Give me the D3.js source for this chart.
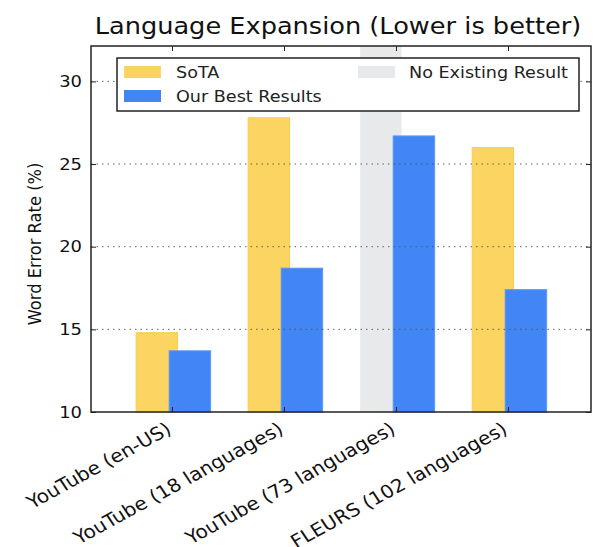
<!DOCTYPE html>
<html>
<head>
<meta charset="utf-8">
<script src="https://cdn.jsdelivr.net/npm/d3@7"></script>
<style>
  body { margin: 0; background: #fff; }
  text { font-family: "DejaVu Sans", sans-serif; }
</style>
</head>
<body>
<svg id="chart" width="593" height="547"></svg>
<script>
const categories = ["YouTube (en-US)", "YouTube (18 languages)", "YouTube (73 languages)", "FLEURS (102 languages)"];
const sotaValues = [14.8, 27.8, null, 26.0];
const bestValues = [13.7, 18.7, 26.7, 17.4];
const noExisting = [false, false, true, false];
const yTicks = [10, 15, 20, 25, 30];
const seriesNames = ["SoTA", "Our Best Results", "No Existing Result"];
const colors = { sota: "#fbd461", best: "#4285f4", none: "#e8e9eb" };

const svg = d3.select("#chart");
const L = 91, R = 591, T = 46, B = 412;
const SX = 1.1; // horizontal text stretch seen in the reference

const x = d3.scaleLinear().domain([-0.723, 3.741]).range([L, R]);
const y = d3.scaleLinear().domain([10, 32.14]).range([B, T]);
const idx = categories.map((d, i) => i);
const w = 0.37;

// gray "no existing result" full-height bars
svg.append("g").selectAll("rect").data(idx.filter(i => noExisting[i])).join("rect")
  .attr("x", i => x(i - 0.135 - w / 2)).attr("width", x(w) - x(0))
  .attr("y", y(32.14)).attr("height", y(10) - y(32.14))
  .attr("fill", colors.none);

// SoTA bars
svg.append("g").selectAll("rect").data(idx.filter(i => sotaValues[i] != null)).join("rect")
  .attr("x", i => x(i - 0.135 - w / 2)).attr("width", x(w) - x(0))
  .attr("y", i => y(sotaValues[i])).attr("height", i => y(10) - y(sotaValues[i]))
  .attr("fill", colors.sota).attr("stroke", "#f7cd55").attr("stroke-width", 1);

// Best bars
svg.append("g").selectAll("rect").data(idx).join("rect")
  .attr("x", i => x(i + 0.16 - w / 2)).attr("width", x(w) - x(0))
  .attr("y", i => y(bestValues[i])).attr("height", i => y(10) - y(bestValues[i]))
  .attr("fill", colors.best).attr("stroke", "#5a96f6").attr("stroke-width", 1);

// gridlines (drawn on top)
svg.append("g").selectAll("line").data(yTicks.filter(t => t > 10)).join("line")
  .attr("x1", L).attr("x2", R).attr("y1", d => y(d)).attr("y2", d => y(d))
  .attr("stroke", "#555").attr("stroke-width", 0.9).attr("stroke-dasharray", "1.5,4");

// Axes with inward ticks
const yAxisL = d3.axisLeft(y).tickValues(yTicks).tickSizeInner(-5).tickSizeOuter(0).tickFormat("");
const gyl = svg.append("g").attr("transform", `translate(${L},0)`).call(yAxisL);
gyl.select(".domain").remove();
const yAxisR = d3.axisRight(y).tickValues(yTicks).tickSizeInner(-5).tickSizeOuter(0).tickFormat("");
const gyr = svg.append("g").attr("transform", `translate(${R},0)`).call(yAxisR);
gyr.select(".domain").remove();
const xAxisB = d3.axisBottom(x).tickValues(idx).tickSizeInner(-5).tickSizeOuter(0).tickFormat("");
const gxb = svg.append("g").attr("transform", `translate(0,${B})`).call(xAxisB);
gxb.select(".domain").remove();
const xAxisT = d3.axisTop(x).tickValues(idx).tickSizeInner(-5).tickSizeOuter(0).tickFormat("");
const gxt = svg.append("g").attr("transform", `translate(0,${T})`).call(xAxisT);
gxt.select(".domain").remove();
svg.selectAll(".tick line").attr("stroke", "#222");

// y tick labels
svg.append("g").selectAll("text").data(yTicks).join("text")
  .attr("transform", d => `translate(${L - 9},${y(d)}) scale(${SX},1)`)
  .attr("text-anchor", "end").attr("dy", "0.35em")
  .attr("font-size", 16.3).attr("fill", "#111").text(d => d);

// rotated x labels
svg.append("g").selectAll("text").data(idx).join("text")
  .attr("transform", i => `translate(${x(i) - 3},${B + 15}) scale(${SX},1) rotate(-31)`)
  .attr("text-anchor", "end").attr("font-size", 18.3).attr("fill", "#111")
  .attr("dy", "0.35em")
  .text(i => categories[i]);

// frame
svg.append("rect").attr("x", L).attr("y", T).attr("width", R - L).attr("height", B - T)
  .attr("fill", "none").attr("stroke", "#222").attr("stroke-width", 1.5);

// y label
svg.append("text").attr("transform", `translate(41,244) scale(${SX},1) rotate(-90)`)
  .attr("text-anchor", "middle").attr("font-size", 16.3).attr("fill", "#111")
  .text("Word Error Rate (%)");

// title
svg.append("text").attr("transform", `translate(338,34) scale(${SX},1)`).attr("text-anchor", "middle")
  .attr("font-size", 23.3).attr("fill", "#111").text("Language Expansion (Lower is better)");

// legend
const lg = svg.append("g");
lg.append("rect").attr("x", 117).attr("y", 58).attr("width", 462).attr("height", 53)
  .attr("fill", "#fff").attr("stroke", "#222").attr("stroke-width", 1.5);
const legendItems = [
  { name: seriesNames[0], color: colors.sota, sx: 124, tx: 176, base: 77.5 },
  { name: seriesNames[1], color: colors.best, sx: 124, tx: 176, base: 101.5 },
  { name: seriesNames[2], color: colors.none, sx: 358, tx: 409, base: 77.5 }
];
legendItems.forEach(it => {
  lg.append("rect").attr("x", it.sx).attr("y", it.base - 11.5).attr("width", 37).attr("height", 12).attr("fill", it.color);
  lg.append("text").attr("transform", `translate(${it.tx},${it.base}) scale(${SX},1)`)
    .attr("font-size", 16).attr("fill", "#222").text(it.name);
});
</script>
</body>
</html>
